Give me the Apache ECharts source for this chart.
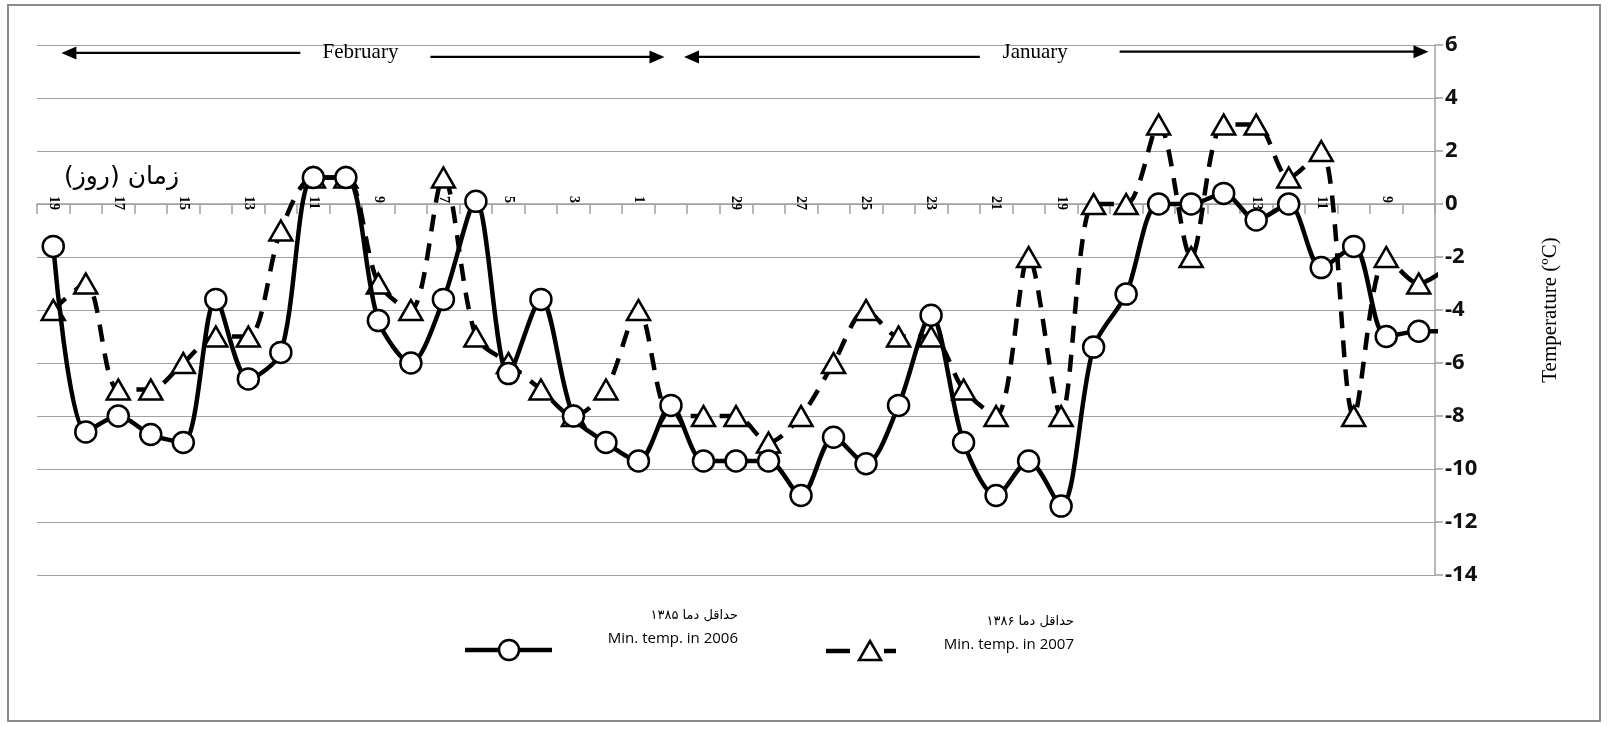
<!DOCTYPE html>
<html><head><meta charset="utf-8">
<script src="https://cdn.jsdelivr.net/npm/echarts/dist/echarts.min.js"></script>
<style>html,body{margin:0;padding:0;background:#fff}#c{width:1608px;height:739px}</style>
</head><body><div id="c"></div>
<script>
// Categories: days, left to right (Feb 19 -> Feb 1, Jan 31 -> Jan 7)
const days = ['Feb 19','Feb 18','Feb 17','Feb 16','Feb 15','Feb 14','Feb 13','Feb 12','Feb 11','Feb 10',
  'Feb 9','Feb 8','Feb 7','Feb 6','Feb 5','Feb 4','Feb 3','Feb 2','Feb 1',
  'Jan 31','Jan 30','Jan 29','Jan 28','Jan 27','Jan 26','Jan 25','Jan 24','Jan 23','Jan 22','Jan 21',
  'Jan 20','Jan 19','Jan 18','Jan 17','Jan 16','Jan 15','Jan 14','Jan 13','Jan 12','Jan 11','Jan 10',
  'Jan 9','Jan 8','Jan 7'];
// Tick labels shown on the day axis
const tickLabels = ['19','','17','','15','','13','','11','','9','','7','','5','','3','','1',
  '','','29','','27','','25','','23','','21','','19','','17','','15','','13','','11','','9','','7'];
// Minimum temperature 2006 (circles, solid)
const temp2006 = [-1.6,-8.6,-8.0,-8.7,-9.0,-3.6,-6.6,-5.6,1.0,1.0,
  -4.4,-6.0,-3.6,0.1,-6.4,-3.6,-8.0,-9.0,-9.7,-7.6,
  -9.7,-9.7,-9.7,-11.0,-8.8,-9.8,-7.6,-4.2,-9.0,-11.0,
  -9.7,-11.4,-5.4,-3.4,0.0,0.0,0.4,-0.6,0.0,-2.4,
  -1.6,-5.0,-4.8,-4.8];
// Minimum temperature 2007 (triangles, dashed)
const temp2007 = [-4,-3,-7,-7,-6,-5,-5,-1,1,1,
  -3,-4,1,-5,-6,-7,-8,-7,-4,-8,
  -8,-8,-9,-8,-6,-4,-5,-5,-7,-8,
  -2,-8,0,0,3,-2,3,3,1,2,
  -8,-2,-3,-2.3];
const yMin = -14, yMax = 6, yStep = 2;
const name2006 = ['حداقل دما ۱۳۸۵', 'Min. temp. in 2006'];
const name2007 = ['حداقل دما ۱۳۸۶', 'Min. temp. in 2007'];

const gridTop = 45, gridBottom = 164, H = 739;
const plotH = H - gridTop - gridBottom;
const zeroOffset = -plotH * (0 - yMin) / (yMax - yMin); // move day axis up to the 0 line

const chart = echarts.init(document.getElementById('c'), null, {renderer: 'canvas'});
const gray = '#a0a0a0';
chart.setOption({
  animation: false,
  backgroundColor: '#fff',
  grid: {left: 37, right: 173, top: gridTop, bottom: gridBottom, containLabel: false},
  xAxis: {
    type: 'category', data: days, boundaryGap: true, max: 42, position: 'bottom', offset: zeroOffset,
    axisLine: {show: true, onZero: false, lineStyle: {color: gray, width: 1.5}},
    axisTick: {show: true, interval: 0, length: 10, lineStyle: {color: gray, width: 1.5}},
    axisLabel: {interval: 0, rotate: -90, margin: -8, hideOverlap: false,
      formatter: (v, i) => tickLabels[i] || '',
      fontFamily: 'Liberation Serif', fontWeight: 'bold', fontSize: 14, color: '#000'},
    splitLine: {show: false}
  },
  yAxis: {
    type: 'value', position: 'right', min: yMin, max: yMax, interval: yStep,
    name: 'Temperature (ºC)', nameLocation: 'middle', nameGap: 105, nameRotate: 90,
    nameTextStyle: {fontFamily: 'Liberation Serif', fontSize: 21, color: '#000'},
    axisLine: {show: true, lineStyle: {color: gray, width: 1.5}},
    axisTick: {show: true, length: 8, lineStyle: {color: gray, width: 1.5}},
    axisLabel: {margin: 10, fontFamily: 'Open Sans', fontWeight: 'bold', fontSize: 22, color: '#111'},
    splitLine: {show: true, lineStyle: {color: gray, width: 1.2}}
  },
  series: [
    {name: name2006[1], type: 'line', data: temp2006, smooth: 0.3, z: 3,
      symbol: 'circle', symbolSize: 21, showAllSymbol: true,
      itemStyle: {color: '#fff', borderColor: '#000', borderWidth: 2.5},
      lineStyle: {color: '#000', width: 4.5}},
    {name: name2007[1], type: 'line', data: temp2007, smooth: 0.3, z: 2,
      symbol: 'triangle', symbolSize: [23, 20], showAllSymbol: true,
      itemStyle: {color: '#fff', borderColor: '#000', borderWidth: 2.5},
      lineStyle: {color: '#000', width: 4.5, type: [17, 12]}}
  ]
});

// Annotations placed in data space (fractional category positions)
function px(f, v) {
  const a = chart.convertToPixel({gridIndex: 0}, [0, v]);
  const b = chart.convertToPixel({gridIndex: 0}, [1, v]);
  return [a[0] + f * (b[0] - a[0]), a[1]];
}
function arrow(fFrom, fTo, v) {
  const p0 = px(fFrom, v), p1 = px(fTo, v);
  const dir = p1[0] > p0[0] ? 1 : -1;
  const hl = 15, hw = 6.5;
  return [
    {type: 'line', shape: {x1: p0[0], y1: p0[1], x2: p1[0] - dir * hl * 0.8, y2: p1[1]},
      style: {stroke: '#000', lineWidth: 2.2}, silent: true, z: 10},
    {type: 'polygon', shape: {points: [[p1[0], p1[1]], [p1[0] - dir * hl, p1[1] - hw], [p1[0] - dir * hl, p1[1] + hw]]},
      style: {fill: '#000'}, silent: true, z: 10}
  ];
}
function label(text, f, v, opts) {
  const p = px(f, v);
  return {type: 'text', x: p[0], y: p[1], silent: true, z: 10,
    style: Object.assign({text: text, fill: '#000', align: 'center', verticalAlign: 'middle'}, opts)};
}
const serif = {fontFamily: 'Liberation Serif', fontSize: 21};
const graphics = [].concat(
  arrow(7.6, 0.25, 5.7), arrow(11.6, 18.8, 5.55),
  arrow(28.5, 19.4, 5.55), arrow(32.8, 42.3, 5.75),
  [label('February', 9.45, 5.7, serif), label('January', 30.2, 5.7, serif),
   label('زمان (روز)\u200F', 2.1, 1.0, {fontFamily: 'DejaVu Sans', fontSize: 25})]
);
// Legend (drawn manually: two-line captions to the left of each key)
const fa = {fontFamily: 'DejaVu Sans', fontSize: 13, align: 'right', verticalAlign: 'middle', fill: '#000'};
const en = {fontFamily: 'Open Sans', fontSize: 15, align: 'right', verticalAlign: 'middle', fill: '#000'};
graphics.push(
  {type: 'text', x: 738, y: 616, style: Object.assign({text: name2006[0]}, fa), silent: true},
  {type: 'text', x: 738, y: 639, style: Object.assign({text: name2006[1]}, en), silent: true},
  {type: 'line', shape: {x1: 465, y1: 650, x2: 552, y2: 650}, style: {stroke: '#000', lineWidth: 4.5}, silent: true},
  {type: 'circle', shape: {cx: 509, cy: 650, r: 10}, style: {fill: '#fff', stroke: '#000', lineWidth: 2.5}, silent: true},
  {type: 'text', x: 1074, y: 622, style: Object.assign({text: name2007[0]}, fa), silent: true},
  {type: 'text', x: 1074, y: 645, style: Object.assign({text: name2007[1]}, en), silent: true},
  {type: 'line', shape: {x1: 826, y1: 651, x2: 850, y2: 651}, style: {stroke: '#000', lineWidth: 4.5}, silent: true},
  {type: 'line', shape: {x1: 884, y1: 651, x2: 896, y2: 651}, style: {stroke: '#000', lineWidth: 4.5}, silent: true},
  {type: 'polygon', shape: {points: [[870, 641], [881, 660], [859, 660]]}, style: {fill: '#fff', stroke: '#000', lineWidth: 2.5}, silent: true},
  {type: 'rect', shape: {x: 8, y: 5, width: 1592, height: 716}, style: {fill: 'none', stroke: '#8c8c8c', lineWidth: 2}, silent: true, z: -1}
);
chart.setOption({graphic: graphics});
</script></body></html>
